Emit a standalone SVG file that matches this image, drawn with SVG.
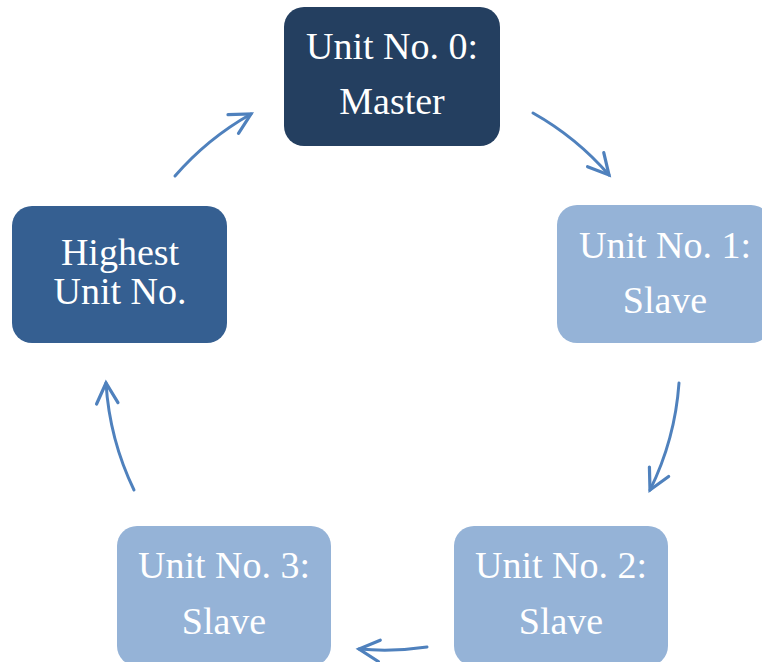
<svg xmlns="http://www.w3.org/2000/svg" width="762" height="662" viewBox="0 0 762 662">
  <style>
    .box { stroke: none; }
    .master { fill: #243F60; }
    .top { fill: #355F91; }
    .slave { fill: #95B3D7; }
    .label { font-family: "Liberation Serif", "DejaVu Serif", serif; font-size: 38px; fill: #FFFFFF; text-anchor: middle; }
    .link { fill: none; stroke: #4F81BD; stroke-width: 3; stroke-linecap: round; marker-end: url(#head); }
  </style>
  <defs>
    <marker id="head" markerUnits="userSpaceOnUse" markerWidth="30" markerHeight="30" viewBox="-24 -14 28 28" refX="0" refY="0" orient="auto">
      <path d="M -19,-10 L 0,0 L -19,10" fill="none" stroke="#4F81BD" stroke-width="3" stroke-linecap="round" stroke-linejoin="miter"/>
    </marker>
  </defs>
  <rect width="762" height="662" fill="#FFFFFF"/>

  <g id="unit0">
    <rect class="box master" x="284" y="7" width="216" height="139" rx="20"/>
    <text class="label" x="392" y="59">Unit No. 0:</text>
    <text class="label" x="392" y="114">Master</text>
  </g>

  <g id="unit1">
    <rect class="box slave" x="557" y="205" width="214" height="138" rx="20"/>
    <text class="label" x="665" y="258">Unit No. 1:</text>
    <text class="label" x="665" y="313">Slave</text>
  </g>

  <g id="unit2">
    <rect class="box slave" x="454" y="526" width="214" height="140" rx="20"/>
    <text class="label" x="561" y="578">Unit No. 2:</text>
    <text class="label" x="561" y="634">Slave</text>
  </g>

  <g id="unit3">
    <rect class="box slave" x="117" y="526" width="214" height="140" rx="20"/>
    <text class="label" x="224" y="578">Unit No. 3:</text>
    <text class="label" x="224" y="634">Slave</text>
  </g>

  <g id="highest">
    <rect class="box top" x="12" y="206" width="215" height="137" rx="20"/>
    <text class="label" x="120" y="265">Highest</text>
    <text class="label" x="120" y="304">Unit No.</text>
  </g>

  <g id="connectors">
    <path class="link" d="M 175,176 A 287,287 0 0 1 251,114"/>
    <path class="link" d="M 533,113 A 287,287 0 0 1 609,175"/>
    <path class="link" d="M 679,383 A 287,287 0 0 1 650,490"/>
    <path class="link" d="M 427,647 A 287,287 0 0 1 359,649"/>
    <path class="link" d="M 134,490 A 287,287 0 0 1 106,383"/>
  </g>
</svg>
